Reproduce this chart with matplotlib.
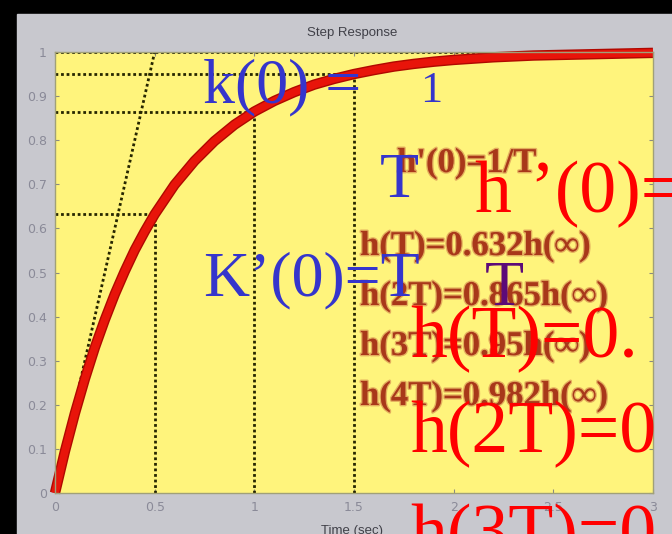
import matplotlib.pyplot as plt
import matplotlib.patheffects as pe
from matplotlib.patches import Rectangle

W, H = 672, 534

# first-order step response, time constant T = 0.5 s
T = 0.5
t = [0, 0.05, 0.1, 0.15, 0.2, 0.25, 0.3, 0.35, 0.4, 0.45, 0.5,
     0.6, 0.7, 0.8, 0.9, 1.0, 1.1, 1.2, 1.3, 1.4, 1.5,
     1.6, 1.7, 1.8, 1.9, 2.0, 2.2, 2.4, 2.6, 2.8, 3.0]
h = [0, 0.095, 0.181, 0.259, 0.330, 0.393, 0.451, 0.503, 0.551, 0.593, 0.632,
     0.699, 0.753, 0.798, 0.835, 0.865, 0.889, 0.909, 0.926, 0.939, 0.950,
     0.959, 0.967, 0.973, 0.978, 0.982, 0.988, 0.992, 0.994, 0.996, 0.998]

# h(T), h(2T), h(3T)
mark_t = [0.5, 1.0, 1.5]
mark_h = [0.632, 0.865, 0.95]

# tangent at the origin, slope 1/T
tangent_t = [0, T]
tangent_h = [0, 1]

xticks = [0, 0.5, 1, 1.5, 2, 2.5, 3]
xtick_labels = ['0', '0.5', '1', '1.5', '2', '2.5', '3']
yticks = [0, 0.1, 0.2, 0.3, 0.4, 0.5, 0.6, 0.7, 0.8, 0.9, 1.0]
ytick_labels = ['0', '0.1', '0.2', '0.3', '0.4', '0.5', '0.6', '0.7', '0.8', '0.9', '1']

notes = ["h(T)=0.632h(\u221e)", "h(2T)=0.865h(\u221e)",
         "h(3T)=0.95h(\u221e)", "h(4T)=0.982h(\u221e)"]


def px(x, y):
    return x / W, 1 - y / H


fig = plt.figure(figsize=(W / 100, H / 100), dpi=100, facecolor='black')
fig.patches.append(Rectangle((17 / W, 0), 1 - 17 / W, 1 - 14 / H,
                             transform=fig.transFigure, color='#c8c8ce', zorder=-10))

ax = fig.add_axes([55 / W, 1 - 493 / H, (653 - 55) / W, (493 - 52) / H])
ax.set_facecolor('#fff47c')
for s in ax.spines.values():
    s.set_color('#a0a078')
    s.set_linewidth(1)

dot = dict(color='#262600', lw=2, linestyle=(0, (1, 1)))
ax.hlines(1, 0, 3, **dot)
ax.vlines(mark_t, 0, mark_h, **dot)
ax.hlines(mark_h, 0, mark_t, **dot)
ax.plot(tangent_t, tangent_h, **dot)

ax.plot(t, h, color='#e8140a', lw=5.5, clip_on=False, solid_capstyle='butt',
        path_effects=[pe.Stroke(linewidth=7.5, foreground='#b00800'), pe.Normal()])

ax.set_xlim(0, 3)
ax.set_ylim(0, 1)
ax.set_xticks(xticks, xtick_labels)
ax.set_yticks(yticks, ytick_labels)
ax.tick_params(direction='in', top=True, right=True, length=3, color='#8a8a80',
               labelcolor='#8a8a98', labelsize=9, pad=6)

fig.text(*px(352, 33), 'Step Response', ha='center', va='center',
         fontsize=9.5, color='#404048', family='Liberation Sans')
fig.text(*px(352, 525), 'Time (sec)', ha='center', va='top',
         fontsize=9.5, color='#404048', family='Liberation Sans')

# annotations written on the plot
soft = [pe.withStroke(linewidth=2, foreground='#c86a40', alpha=0.5)]
bold = dict(fontsize=25, fontweight='bold', color='#a8381a',
            family=['Liberation Serif', 'DejaVu Serif'], zorder=2, path_effects=soft)
fig.text(*px(397, 172), "h'(0)=1/T", **bold)
for i, note in enumerate(notes):
    fig.text(*px(360, 255 + 50 * i), note, **bold)

serif = ['Liberation Serif', 'DejaVu Serif']
blue = dict(fontsize=46, color='#3535cc', family=serif, zorder=5)
red = dict(fontsize=53, color='#ff0000', family=serif, zorder=5)

fig.text(*px(203, 102), 'k(0) =', **blue)
fig.text(*px(420, 102), '1', fontsize=32, color='#3535cc', family=serif, zorder=5)
fig.text(*px(380, 197), 'T', **blue)
fig.text(*px(203, 295), 'K\u2019(0)=T', **blue)
fig.text(*px(485, 305), 'T', fontsize=46, color='#5c0a78', family=serif, zorder=5)

fig.text(*px(475, 212), 'h \u2019(0)=', **red)
fig.text(*px(410, 357), 'h(T)=0.', **red)
fig.text(*px(410, 452), 'h(2T)=0', **red)
fig.text(*px(410, 555), 'h(3T)=0', **red)

fig.savefig('out.png', dpi=100, facecolor=fig.get_facecolor())
